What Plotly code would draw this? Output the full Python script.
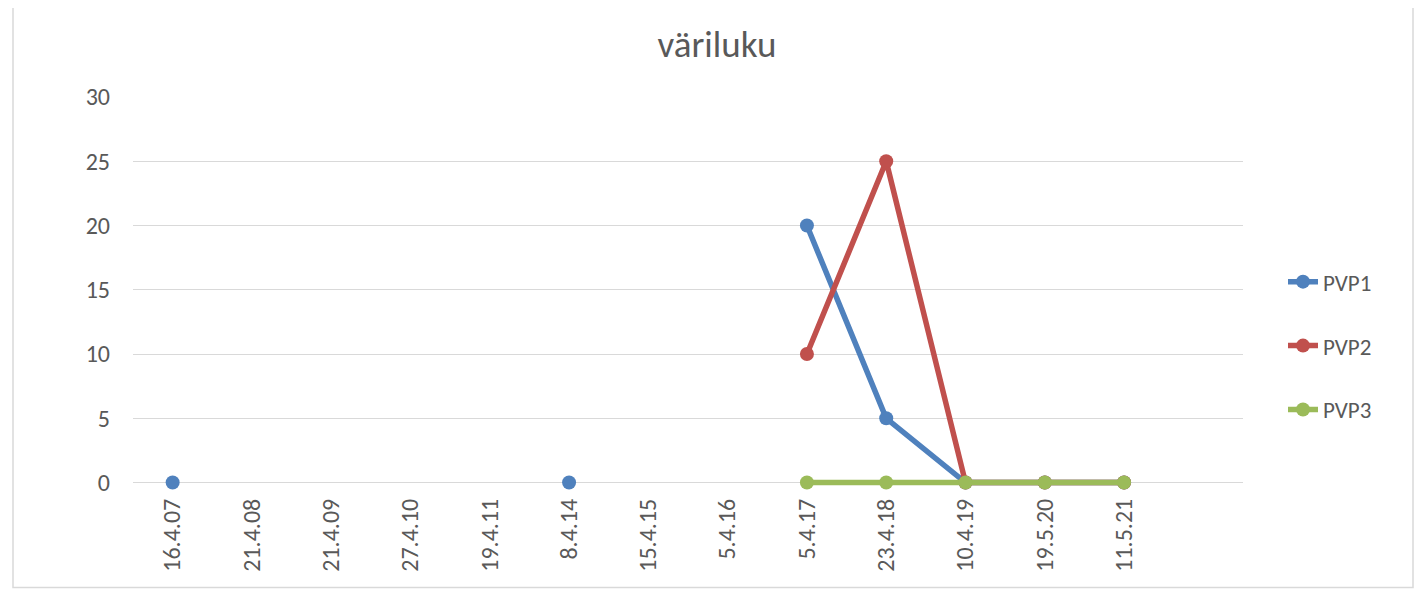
import plotly.graph_objects as go

categories = ["16.4.07", "21.4.08", "21.4.09", "27.4.10", "19.4.11", "8.4.14", "15.4.15",
              "5.4.16", "5.4.17", "23.4.18", "10.4.19", "19.5.20", "11.5.21", ""]
pvp1 = [0, None, None, None, None, 0, None, None, 20, 5, 0, 0, 0, None]
pvp2 = [None, None, None, None, None, None, None, None, 10, 25, 0, 0, 0, None]
pvp3 = [None, None, None, None, None, None, None, None, 0, 0, 0, 0, 0, None]
yticks = [0, 5, 10, 15, 20, 25, 30]

idx = list(range(len(categories)))
series = [("PVP1", pvp1, "#4F81BD"), ("PVP2", pvp2, "#C0504D"), ("PVP3", pvp3, "#9BBB59")]

fig = go.Figure()
for name, vals, col in series:
    fig.add_trace(go.Scatter(
        x=idx, y=vals, name=name, mode="lines+markers", legendgroup=name,
        line=dict(color=col, width=5.5), marker=dict(color=col, size=14),
        connectgaps=False, cliponaxis=False,
    ))

# page body has an 8px margin; figure coordinates = screen - 8
W, H = 1414, 588
ymin = -0.5
ppu = 386 / 30
pl, pr, pt = 125, 1235, 89
pb = 475 + (-ymin) * ppu
font = "Carlito, Lato, 'Liberation Sans', sans-serif"
fig.update_layout(
    width=W, height=H,
    margin=dict(l=pl, r=W - pr, t=pt, b=H - pb),
    paper_bgcolor="white", plot_bgcolor="white",
    font=dict(family=font, color="#595959", size=24),
    title=dict(text="väriluku", x=(717 - 8) / W, xref="container", xanchor="center",
               y=1 - 36 / H, yanchor="middle",
               font=dict(size=37, color="#595959", family=font)),
    xaxis=dict(range=[-0.5, 13.5], tickmode="array", tickvals=idx, ticktext=categories,
               tickangle=-90, showgrid=False, zeroline=False, showline=False, ticks="",
               ticklabelstandoff=4, tickfont=dict(size=24, color="#595959")),
    yaxis=dict(range=[ymin, 30], tickmode="array", tickvals=yticks, showgrid=True, gridcolor="#d9d9d9",
               gridwidth=1.3, zeroline=False, showline=False, ticks="", ticklabelstandoff=22,
               tickfont=dict(size=24, color="#595959")),
    legend=dict(x=(1283 - 8 - pl) / (pr - pl), y=(pb - (346 - 8)) / (pb - pt), xanchor="left",
                yanchor="middle", tracegroupgap=31,
                font=dict(size=23, color="#595959"), bgcolor="rgba(0,0,0,0)"),
    showlegend=True,
)
fig.add_shape(type="rect", xref="paper", yref="paper",
              x0=(5 - pl) / (pr - pl), x1=(1405 - pl) / (pr - pl),
              y0=(pb - 580) / (pb - pt), y1=(pb + 12) / (pb - pt),
              line=dict(color="#d9d9d9", width=1.5), layer="below")
fig.write_html("out.html")
